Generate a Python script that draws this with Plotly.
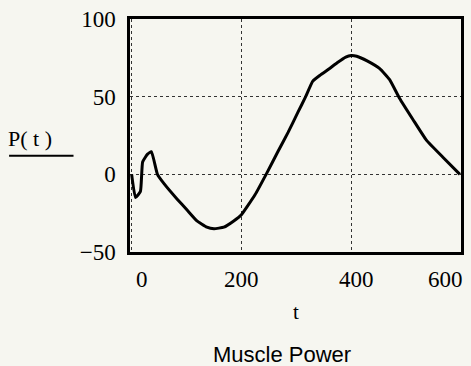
import plotly.graph_objects as go

# time samples and muscle power
t = [0, 7, 16, 20, 29, 36, 47, 59, 83, 101, 119, 137, 150, 168, 186, 200,
     225, 245, 267, 285, 303, 317, 330, 344, 360, 375, 390, 400, 410, 429,
     452, 470, 488, 513, 537, 567, 598]
P = [0, -15, -11, 8, 13, 14.6, 0, -6, -16, -23, -30, -34, -35, -34, -30, -26,
     -13, 0, 15, 27, 40, 50, 60, 64, 68, 72, 75.5, 76.5, 76, 73,
     68, 61, 49, 35, 22, 11, 0]

x_ticks = [0, 200, 400, 600]
x_labels = ["0", "200", "400", "600"]
y_ticks = [-50, 0, 50, 100]
y_labels = ["\u221250", "0", "50", "100"]

bg = "#f6f6f0"
serif = "Liberation Serif, Times New Roman, serif"

fig = go.Figure()
fig.add_trace(go.Scatter(x=t, y=P, mode="lines",
                         line=dict(color="black", width=3, shape="spline", smoothing=0.4)))

fig.update_layout(
    width=471, height=366,
    margin=dict(l=130, r=7, t=15, b=114),
    paper_bgcolor=bg, plot_bgcolor=bg,
    showlegend=False,
    font=dict(family=serif, size=23, color="black"),
)

fig.update_xaxes(range=[-3, 600], tickvals=x_ticks, showticklabels=False,
                 showgrid=True, gridcolor="#333", griddash="dot", gridwidth=1,
                 showline=True, linecolor="black", linewidth=2.5, mirror=True,
                 zeroline=False, ticks="")
fig.update_yaxes(range=[-50, 100], tickvals=y_ticks, ticktext=y_labels,
                 showgrid=True, gridcolor="#333", griddash="dot", gridwidth=1,
                 showline=True, linecolor="black", linewidth=2.5, mirror=True,
                 zeroline=False, ticks="", ticklabelstandoff=7)

# x tick labels sit a little off their ticks, as in the Mathcad original
label_shift = [10, 0, 5, -16]
for v, lab, dx in zip(x_ticks, x_labels, label_shift):
    fig.add_annotation(text=lab, x=v, y=y_ticks[0], xref="x", yref="y",
                       yanchor="middle", xshift=dx, yshift=-27, showarrow=False,
                       font=dict(family=serif, size=23))

# axis titles
fig.add_annotation(text="t", xref="paper", yref="paper", x=0.5, y=0,
                   yanchor="middle", yshift=-60, showarrow=False,
                   font=dict(family=serif, size=21))
fig.add_annotation(text="Muscle Power", xref="paper", yref="paper", x=0.458, y=0,
                   yanchor="middle", yshift=-102, showarrow=False,
                   font=dict(family="Liberation Sans, Arial, sans-serif", size=22))
fig.add_annotation(text="P(\u00a0t\u00a0)", xref="paper", yref="paper", x=0, y=0,
                   xanchor="left", yanchor="middle", xshift=-124, yshift=114,
                   showarrow=False, font=dict(family=serif, size=22))
fig.add_shape(type="line", xref="paper", yref="paper",
              x0=-122 / 334, x1=-57 / 334, y0=98 / 237, y1=98 / 237,
              line=dict(color="black", width=2))

fig.write_html("out.html", config={"displayModeBar": False},
               post_script="document.body.style.margin='0';")
